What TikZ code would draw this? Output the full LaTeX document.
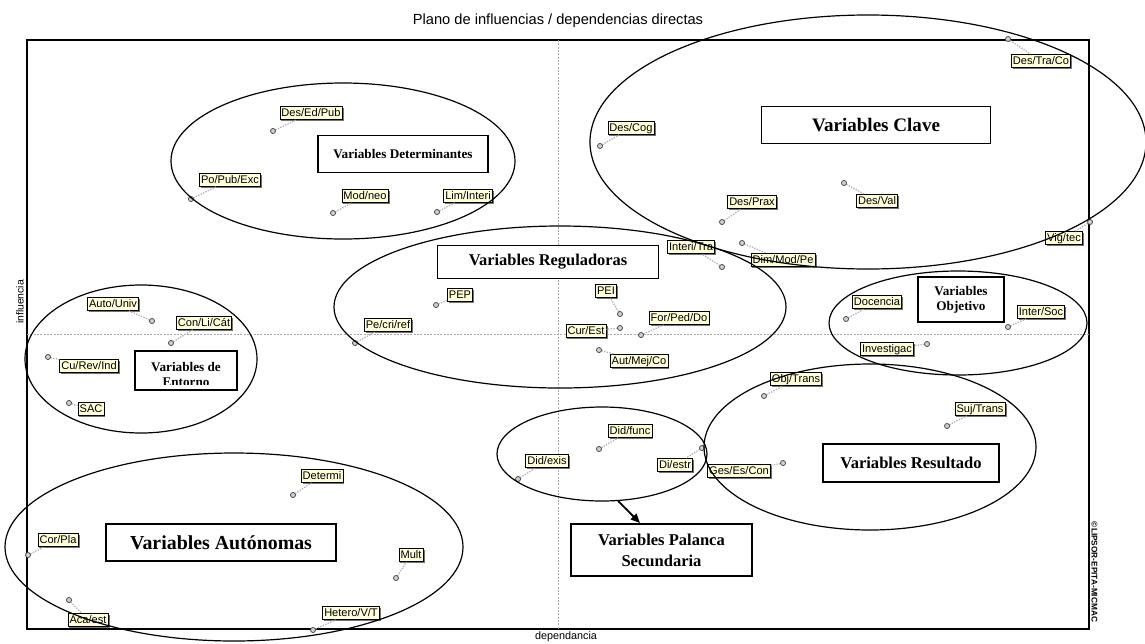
\documentclass[tikz,border=0pt]{standalone}
\usepackage{fontspec}
\setmainfont{Liberation Serif}
\setsansfont{Liberation Sans}
\usetikzlibrary{arrows.meta,shadows,shapes.geometric}
\definecolor{tipfill}{HTML}{FFFFDC}
\definecolor{axisgray}{HTML}{A8A8A8}

% one variable of the map: name, text, label x/y, point x/y (pixel grid)
\newcommand{\mvar}[6]{%
  \coordinate (p#1) at (#5,#6);
  \node[tip] (t#1) at (#3,#4) {#2};
  \draw[link] (p#1) -- (t#1);
  \path[dot] (p#1) circle[radius=1.9pt];
}

\begin{document}
\begin{tikzpicture}[x=0.75pt,y=-0.75pt,
  axis/.style={axisgray, line width=0.75pt, dash pattern=on 1.5pt off 1pt},
  tip/.style={draw=black, line width=0.45pt, fill=tipfill,
    font=\sffamily\fontsize{8.3}{9}\selectfont, inner xsep=1.2pt, inner ysep=1pt,
    text height=6.2pt, text depth=1.7pt,
    drop shadow={shadow xshift=1.1pt, shadow yshift=-1.1pt, fill=black!55, opacity=1}},
  link/.style={gray!60, line width=1pt, densely dotted},
  dot/.style={draw=black!70, fill=gray!35, line width=0.6pt},
  zone/.style={draw=black, line width=0.9pt, ellipse, inner sep=0pt},
  tag/.style={draw=black, line width=1pt, fill=white, font=\bfseries,
    align=center, inner sep=0pt},
]
\useasboundingbox (0,0) rectangle (1145,643);

% plot frame and the two mean axes
\node[draw=black, line width=0.8pt, inner sep=0pt, outer sep=0pt,
  minimum width=796.5pt, minimum height=441.75pt] (frame) at (558,334.5) {};
\draw[axis] (frame.north) -- (frame.south);
\draw[axis] (frame.west) -- (frame.east);

% variables
\mvar{a1}{Des/Ed/Pub}{311}{113}{273}{131}
\mvar{a2}{Po/Pub/Exc}{230}{180}{191}{199}
\mvar{a3}{Mod/neo}{365}{196}{333}{213}
\mvar{a4}{Lim/Interi}{468}{196}{437}{212}
\mvar{a5}{Des/Cog}{631}{128}{600}{146}
\mvar{a6}{Des/Prax}{752}{202}{722}{222}
\mvar{a7}{Des/Tra/Co}{1041}{61}{1008}{39}
\mvar{a8}{Des/Val}{877}{201}{844}{183}
\mvar{a9}{Interi/Tra}{691}{247}{722}{267}
\mvar{a10}{Dim/Mod/Pe}{783}{260}{742}{243}
\mvar{a11}{Vig/tec}{1064}{238}{1090}{222}
\mvar{a12}{Docencia}{877}{302}{846}{319}
\mvar{a13}{Inter/Soc}{1041}{312}{1008}{327}
\mvar{a14}{Investigac}{887}{349}{927}{344}
\mvar{a15}{Obj/Trans}{796}{379}{764}{396}
\mvar{a16}{Suj/Trans}{980}{409}{947}{426}
\mvar{a17}{Auto/Univ}{113}{304}{152}{321}
\mvar{a18}{Con/Li/Cát}{204}{323}{171}{343}
\mvar{a19}{Cu/Rev/Ind}{89}{366}{48}{357}
\mvar{a20}{SAC}{91}{409}{69}{403}
\mvar{a21}{Pe/cri/ref}{388}{325}{355}{343}
\mvar{a22}{PEP}{460}{295}{436}{305}
\mvar{a23}{PEI}{606}{291}{620}{314}
\mvar{a24}{For/Ped/Do}{679}{318}{641}{335}
\mvar{a25}{Cur/Est}{586}{331}{620}{328}
\mvar{a26}{Aut/Mej/Co}{639}{361}{599}{350}
\mvar{a27}{Did/func}{630}{431}{599}{449}
\mvar{a28}{Did/exis}{547}{461}{518}{479}
\mvar{a29}{Di/estr}{675}{465}{702}{448}
\mvar{a30}{Ges/Es/Con}{739}{471}{783}{463}
\mvar{a31}{Determi}{322}{476}{293}{495}
\mvar{a32}{Cor/Pla}{58}{540}{28}{555}
\mvar{a33}{Aca/est}{88}{620}{69}{600}
\mvar{a34}{Hetero/V/T}{351}{613}{313}{630}
\mvar{a35}{Mult}{411}{555}{396}{578}

% groups of variables
\node[zone, minimum width=258pt, minimum height=117pt] (detzone) at (343,161) {};
\node[zone, minimum width=417pt, minimum height=190.5pt] (clavezone) at (868,142) {};
\node[zone, minimum width=339pt, minimum height=121.5pt] (regzone) at (560,307) {};
\node[zone, minimum width=174pt, minimum height=111pt] (entzone) at (141,359) {};
\node[zone, minimum width=193.5pt, minimum height=78pt] (objzone) at (958,323) {};
\node[zone, minimum width=249pt, minimum height=124.5pt] (reszone) at (870,447) {};
\node[zone, minimum width=157.5pt, minimum height=70.5pt] (palzone) at (602,454) {};
\node[zone, minimum width=343.5pt, minimum height=141pt] (autzone) at (234,547) {};

% group titles
\node[tag, minimum width=127.5pt, minimum height=27.75pt, font=\bfseries\fontsize{9.9}{11}\selectfont]
  (det) at (403,154) {Variables Determinantes};
\node[tag, minimum width=171.75pt, minimum height=27.75pt, font=\bfseries\fontsize{14.3}{16}\selectfont]
  (clave) at (876,125) {Variables Clave};
\node[tag, minimum width=165.75pt, minimum height=24.75pt, font=\bfseries\fontsize{12.3}{14}\selectfont]
  (reg) at (548,262) {Variables Reguladoras};
\node[tag, minimum width=76.5pt, minimum height=29.25pt] (ent) at (186,370.5) {};
\begin{scope}
  \clip (137,353) rectangle (235,384.5);
  \node[font=\bfseries\fontsize{9.9}{11.25}\selectfont, align=center, inner sep=0pt]
    (enttext) at (186,374) {Variables de\\Entorno};
\end{scope}
\node[tag, minimum width=64.5pt, minimum height=33.75pt, font=\bfseries\fontsize{9.9}{11.25}\selectfont]
  (obj) at (961,299.5) {Variables\\Objetivo};
\node[tag, minimum width=132pt, minimum height=28.5pt, font=\bfseries\fontsize{12.4}{14}\selectfont]
  (res) at (911,463) {Variables Resultado};
\node[tag, minimum width=135.75pt, minimum height=39pt, font=\bfseries\fontsize{12.4}{15.75}\selectfont]
  (pal) at (661.5,550) {Variables Palanca\\Secundaria};
\node[tag, minimum width=172.5pt, minimum height=27.75pt, font=\bfseries\fontsize{14.9}{17}\selectfont]
  (aut) at (221,542.5) {Variables Autónomas};

% pointer from the small group to its title
\coordinate (palarrow) at (640,523);
\draw[line width=1.4pt, -{Triangle[length=7pt,width=6pt]}] (palzone.-71) -- (palarrow);

% titles of the plot
\node[font=\sffamily\fontsize{11}{13}\selectfont] (title) at (558,21)
  {Plano de influencias / dependencias directas};
\node[font=\sffamily\fontsize{7.8}{9}\selectfont, rotate=90] (ylab) at (20,302) {influencia};
\node[font=\sffamily\fontsize{8.1}{9}\selectfont] (xlab) at (566,637) {dependancia};
\node[font=\sffamily\bfseries\fontsize{6.2}{7}\selectfont, rotate=-90] (copy) at (1094.5,572)
  {©LIPSOR-EPITA-MICMAC};
\end{tikzpicture}
\end{document}
